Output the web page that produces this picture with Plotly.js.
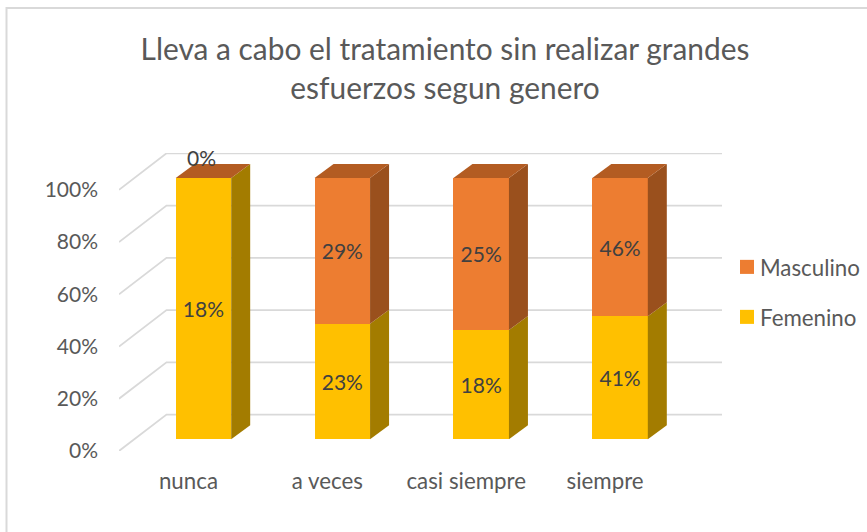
<!DOCTYPE html>
<html>
<head>
<meta charset="utf-8">
<script src="https://cdn.plot.ly/plotly-3.0.1.min.js"></script>
<style>
html,body{margin:0;padding:0;background:#fff}
#c{width:867px;height:532px}
/* Legend swatches in the reference are slightly larger and closer to the text */
#c .legendpoints path{transform:translate(27px,0) scale(1.17)}
</style>
</head>
<body>
<div id="c"></div>
<script>
const categories = ['nunca', 'a veces', 'casi siempre', 'siempre'];
const femenino = [18, 23, 18, 41];
const masculino = [0, 29, 25, 46];
const yTicks = [0, 20, 40, 60, 80, 100];
const titleText = 'Lleva a cabo el tratamiento sin realizar grandes<br>esfuerzos segun genero';

const FONT = 'Lato, Carlito, sans-serif';
// Plot frame in pixels
const W = 867, H = 532;
const L = 119, R = 867, T = 153.3, B = 450.7;
const catPx = 138.875, pctPx = 2.607;
// Oblique projection of the chart depth (in axis units)
const wallDX = 47.5 / catPx, wallDY = 36.4 / pctPx;
const frontDX = 15.0 / catPx, frontDY = 11.7 / pctPx;
const barDX = 19.0 / catPx, barDY = 14.0 / pctPx;
const barW = 55.5 / catPx;
const gridEnd = -0.5 + (722 - L) / catPx;

const xMax = -0.5 + (R - L) / catPx;
const yMax = (B - T) / pctPx;

const idx = categories.map((_, i) => i);
const femShare = femenino.map((v, i) => 100 * v / (v + masculino[i]));

const traces = [];
// wall + floor gridlines, on the main axes
yTicks.forEach(t => {
  traces.push({
    type: 'scatter', mode: 'lines', xaxis: 'x', yaxis: 'y',
    x: [-0.5, -0.5 + wallDX, gridEnd], y: [t, t + wallDY, t + wallDY],
    line: {color: '#D9D9D9', width: 1.8}, showlegend: false, hoverinfo: 'skip'
  });
});
// front faces
traces.push({
  type: 'bar', name: 'Femenino', x: idx, y: femenino, xaxis: 'x2', yaxis: 'y2',
  width: barW, marker: {color: '#FFC000', line: {width: 0}},
  text: femenino.map(v => v + '%'), textposition: 'inside', insidetextanchor: 'middle',
  textangle: 0, constraintext: 'none',
  textfont: {family: FONT, size: 21, color: '#404040'},
  legendgroup: 'f', legendrank: 2, hoverinfo: 'name+y'
});
traces.push({
  type: 'bar', name: 'Masculino', x: idx, y: masculino, xaxis: 'x2', yaxis: 'y2',
  width: barW, marker: {color: '#ED7D31', line: {width: 0}},
  text: masculino.map(v => v > 0 ? v + '%' : ''), textposition: 'inside', insidetextanchor: 'middle',
  textangle: 0, constraintext: 'none',
  textfont: {family: FONT, size: 21, color: '#404040'},
  legendgroup: 'm', legendrank: 1, hoverinfo: 'name+y'
});
// side and top faces, derived from the same stack
function face(xs, ys, color) {
  traces.push({
    type: 'scatter', mode: 'lines', xaxis: 'x2', yaxis: 'y2', x: xs, y: ys,
    fill: 'toself', fillcolor: color, line: {width: 0, color: color},
    showlegend: false, hoverinfo: 'skip'
  });
}
idx.forEach(i => {
  const r = i + barW / 2, l = i - barW / 2, s = femShare[i];
  face([r, r + barDX, r + barDX, r, r], [0, barDY, s + barDY, s, 0], '#A37C00');
  if (s < 100) face([r, r + barDX, r + barDX, r, r], [s, s + barDY, 100 + barDY, 100, s], '#9A501D');
  face([l, l + barDX, r + barDX, r, l], [100, 100 + barDY, 100 + barDY, 100, 100], '#B35C22');
});

const annotations = [];
idx.forEach(i => {
  if (masculino[i] === 0) annotations.push({
    xref: 'x2', yref: 'y2', x: i, y: 100, text: masculino[i] + '%', showarrow: false,
    yshift: 21, xshift: -2, font: {family: FONT, size: 21, color: '#404040'}
  });
});

const layout = {
  width: W, height: H,
  paper_bgcolor: '#fff', plot_bgcolor: 'rgba(0,0,0,0)',
  margin: {l: L, r: W - R, t: T, b: H - B, pad: 0},
  title: {
    text: titleText, font: {family: FONT, size: 29.9, color: '#595959'},
    x: 445 / W, xanchor: 'center', y: 1 - 60 / H, yanchor: 'top', yref: 'container'
  },
  barmode: 'stack', barnorm: 'percent',
  xaxis: {
    domain: [0, 1], range: [-0.5, xMax], tickmode: 'array', tickvals: idx, ticktext: categories,
    showgrid: false, zeroline: false, showline: false, ticks: '', ticklabelstandoff: 15,
    tickfont: {family: FONT, size: 22.3, color: '#595959'}
  },
  yaxis: {
    domain: [0, 1], range: [0, yMax], tickmode: 'array', tickvals: yTicks,
    ticktext: yTicks.map(t => t + '%'),
    showgrid: false, zeroline: false, showline: false, ticks: '', ticklabelstandoff: 20,
    tickfont: {family: FONT, size: 21, color: '#595959'}
  },
  xaxis2: {
    overlaying: 'x', anchor: 'y2', range: [-0.5 - frontDX, xMax - frontDX], visible: false
  },
  yaxis2: {
    overlaying: 'y', anchor: 'x2', range: [-frontDY, yMax - frontDY], visible: false
  },
  legend: {
    x: (720 - L) / (R - L), xanchor: 'left', y: (B - 246) / (B - T), yanchor: 'top',
    traceorder: 'grouped', tracegroupgap: 18,
    font: {family: FONT, size: 22.3, color: '#595959'}, itemwidth: 30, bgcolor: 'rgba(0,0,0,0)'
  },
  annotations,
  shapes: [{
    type: 'rect', xref: 'paper', yref: 'paper', layer: 'below',
    x0: (6.5 - L) / (R - L), x1: (880 - L) / (R - L),
    y0: (B - 545) / (B - T), y1: (B - 8.5) / (B - T),
    line: {color: '#D9D9D9', width: 2}, fillcolor: 'rgba(0,0,0,0)'
  }],
  showlegend: true
};

Plotly.newPlot('c', traces, layout, {displayModeBar: false, staticPlot: true});
</script>
</body>
</html>
